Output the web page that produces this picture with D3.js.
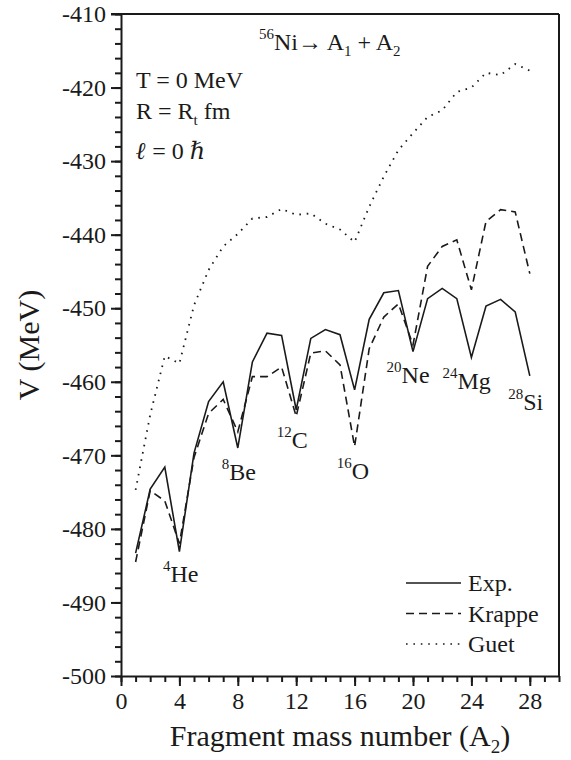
<!DOCTYPE html>
<html><head><meta charset="utf-8">
<script src="https://cdn.jsdelivr.net/npm/d3@7"></script>
<style>
body{margin:0;background:#fff;}
text{font-family:"Liberation Serif","Times New Roman",Times,Tinos,"Nimbus Roman","Nimbus Roman No9 L","DejaVu Serif","Noto Serif",serif;fill:#1a1a1a;}
</style></head>
<body><div id="chart"></div>
<script>
// ---- data ----
const massNumbers = d3.range(1, 29);
const expValues = [-483.3,-474.6,-471.6,-483.1,-469.7,-462.7,-460.0,-469.0,-457.3,-453.4,-453.7,-463.8,-454.1,-452.9,-453.6,-461.1,-451.5,-447.9,-447.6,-455.9,-448.7,-447.3,-448.7,-456.7,-449.7,-448.8,-450.5,-459.2];
const krappeValues = [-484.5,-474.8,-476.2,-482.0,-470.3,-464.3,-462.4,-466.8,-459.3,-459.3,-458.0,-464.7,-456.1,-455.8,-457.7,-468.8,-455.5,-451.2,-449.4,-455.0,-444.3,-441.6,-440.7,-447.5,-438.2,-436.6,-436.9,-445.3];
const guetValues = [-474.7,-464.5,-456.5,-457.5,-449.6,-444.8,-441.6,-439.9,-437.8,-437.6,-436.5,-437.3,-437.1,-438.5,-439.3,-441.0,-436.2,-432.1,-428.5,-426.2,-424.0,-423.1,-420.6,-420.0,-418.0,-418.3,-416.8,-417.7];
const seriesNames = ["Exp.", "Krappe", "Guet"];
const xTicks = [0,4,8,12,16,20,24,28];
const yTicks = [-410,-420,-430,-440,-450,-460,-470,-480,-490,-500];
const isotopes = [
  {mass:"4", sym:"He", a:2.87, v:-487.2},
  {mass:"8", sym:"Be", a:6.90, v:-473.4},
  {mass:"12", sym:"C", a:10.67, v:-469.0},
  {mass:"16", sym:"O", a:14.77, v:-473.2},
  {mass:"20", sym:"Ne", a:18.19, v:-460.2},
  {mass:"24", sym:"Mg", a:22.02, v:-461.0},
  {mass:"28", sym:"Si", a:26.52, v:-463.8}
];

// ---- layout ----
const W = 571, H = 760;
const m = {left:121, top:14, right:12, bottom:84};
const iw = W - m.left - m.right, ih = H - m.top - m.bottom;
const svg = d3.select("#chart").append("svg").attr("width", W).attr("height", H);
const g = svg.append("g").attr("transform", `translate(${m.left},${m.top})`);

const x = d3.scaleLinear().domain([0,30]).range([0, iw]);
const y = d3.scaleLinear().domain([-500,-410]).range([ih, 0]);

const ink = "#1a1a1a";
const fmt = d => String(d);

// minor ticks
g.append("g").attr("transform",`translate(0,${ih})`)
  .call(d3.axisBottom(x).tickValues(d3.range(0,31,1)).tickSize(6).tickFormat(""))
  .call(s=>{s.select(".domain").remove(); s.selectAll("line").attr("stroke",ink).attr("stroke-width",2);});
g.append("g")
  .call(d3.axisLeft(y).tickValues(d3.range(-500,-409,2)).tickSize(6).tickFormat(""))
  .call(s=>{s.select(".domain").remove(); s.selectAll("line").attr("stroke",ink).attr("stroke-width",2);});

// major axes
const xAx = g.append("g").attr("transform",`translate(0,${ih})`)
  .call(d3.axisBottom(x).tickValues(xTicks).tickFormat(fmt).tickSize(10).tickPadding(6).tickSizeOuter(0));
const yAx = g.append("g")
  .call(d3.axisLeft(y).tickValues(yTicks).tickFormat(fmt).tickSize(10).tickPadding(5).tickSizeOuter(0));
[xAx,yAx].forEach(a=>{
  a.attr("font-family",null);
  a.select(".domain").attr("stroke",ink).attr("stroke-width",2);
  a.selectAll(".tick line").attr("stroke",ink).attr("stroke-width",2);
  a.selectAll(".tick text").attr("font-size",24).attr("fill",ink);
});
// frame top/right
g.append("line").attr("x1",-10).attr("x2",iw).attr("y1",0).attr("y2",0).attr("stroke",ink).attr("stroke-width",2);
g.append("line").attr("x1",iw).attr("x2",iw).attr("y1",0).attr("y2",ih).attr("stroke",ink).attr("stroke-width",2);

// lines
const series = [
  {name:seriesNames[0], values:expValues, dash:null},
  {name:seriesNames[1], values:krappeValues, dash:"8,5"},
  {name:seriesNames[2], values:guetValues, dash:"1.6,5.8"}
];
const line = d3.line().x(d=>x(d[0])).y(d=>y(d[1]));
series.forEach(s=>{
  g.append("path").datum(massNumbers.map((a,i)=>[a,s.values[i]]))
   .attr("d",line).attr("fill","none").attr("stroke",ink)
   .attr("stroke-width", s.dash && s.dash.startsWith("1.6") ? 1.8 : 1.6)
   .attr("stroke-dasharray", s.dash);
});

// isotope labels
isotopes.forEach(d=>{
  const t = g.append("text").attr("x",x(d.a)).attr("y",y(d.v)).attr("font-size",24);
  t.append("tspan").attr("font-size",15).attr("dy",-11).text(d.mass);
  t.append("tspan").attr("dy",11).text(d.sym);
});

// title annotation
const tt = g.append("text").attr("x",138).attr("y",36).attr("font-size",24);
tt.append("tspan").attr("font-size",15).attr("dy",-11).text("56");
tt.append("tspan").attr("dy",11).text("Ni\u2192 A");
tt.append("tspan").attr("font-size",15).attr("dy",6).text("1");
tt.append("tspan").attr("dy",-6).text(" + A");
tt.append("tspan").attr("font-size",15).attr("dy",6).text("2");

g.append("text").attr("x",15).attr("y",74).attr("font-size",24).text("T = 0 MeV");
const rt = g.append("text").attr("x",15).attr("y",105).attr("font-size",24);
rt.append("tspan").text("R = R");
rt.append("tspan").attr("font-size",15).attr("dy",6).text("t");
rt.append("tspan").attr("dy",-6).text(" fm");
const lt = g.append("text").attr("x",15).attr("y",145).attr("font-size",24);
lt.append("tspan").attr("font-style","italic").attr("font-weight","bold").text("\u2113");
lt.append("tspan").text(" = 0 ");
lt.append("tspan").attr("font-style","italic").text("\u210F");

// legend
series.forEach((s,i)=>{
  const ly = 569 + i*30.5;
  g.append("line").attr("x1",285).attr("x2",340).attr("y1",ly).attr("y2",ly)
   .attr("stroke",ink).attr("stroke-width",1.6).attr("stroke-dasharray",s.dash);
  g.append("text").attr("x",347).attr("y",ly+8).attr("font-size",24).text(s.name);
});

// axis titles
const xt = svg.append("text").attr("x",m.left+iw/2).attr("y",746).attr("text-anchor","middle").attr("font-size",30);
xt.append("tspan").text("Fragment mass number (A");
xt.append("tspan").attr("font-size",19).attr("dy",7).text("2");
xt.append("tspan").attr("dy",-7).text(")");
svg.append("text").attr("transform",`translate(39,${m.top+ih/2}) rotate(-90)`)
  .attr("text-anchor","middle").attr("font-size",30).text("V (MeV)");
</script></body></html>
